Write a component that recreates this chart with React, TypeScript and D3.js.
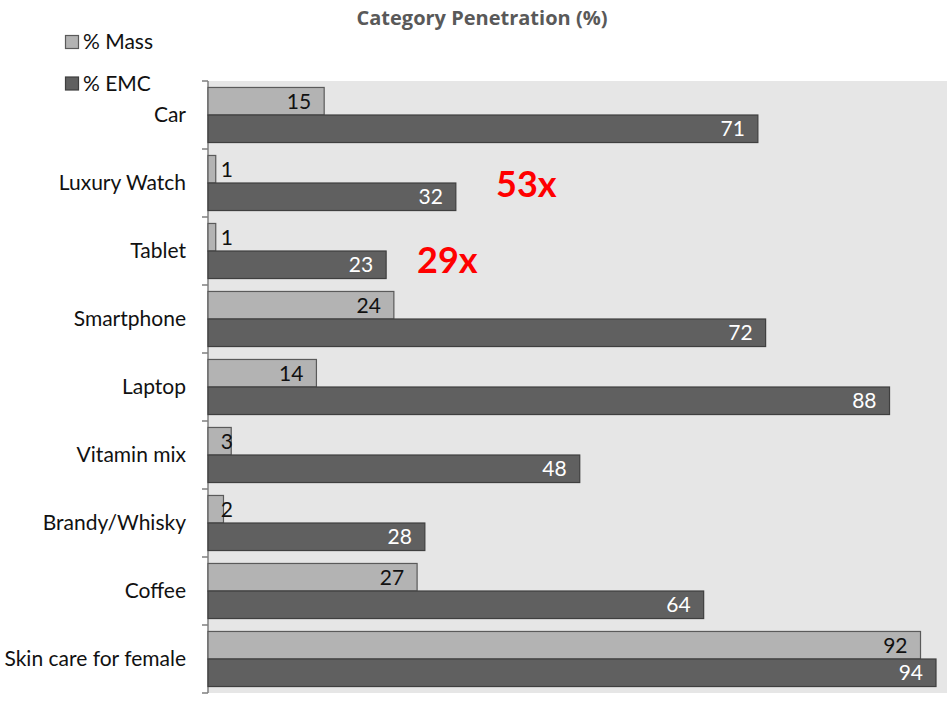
import React from "react";
import * as d3 from "d3";

const categories = ["Car", "Luxury Watch", "Tablet", "Smartphone", "Laptop", "Vitamin mix", "Brandy/Whisky", "Coffee", "Skin care for female"];
const massValues = [15, 1, 1, 24, 14, 3, 2, 27, 92];
const emcValues = [71, 32, 23, 72, 88, 48, 28, 64, 94];
const seriesNames = ["% Mass", "% EMC"];
const annotationCategories = ["Luxury Watch", "Tablet"];
const annotationTexts = ["53x", "29x"];
const annotationValues = [37.2, 27.0];

const W = 947;
const H = 706;
const FONT = "Lato, 'Open Sans', sans-serif";

export default function App() {
  const left = 208;
  const right = 947;
  const top = 81;
  const bottom = 693;
  const x = d3.scaleLinear().domain([0, 94]).range([left, 936]);
  const y = d3.scaleBand<string>().domain(categories).range([top, bottom]).paddingInner(0.19).paddingOuter(0.095);
  const sub = d3.scaleBand<number>().domain([0, 1]).range([0, y.bandwidth()]);
  const step = y.step();
  const colors = ["#b3b3b3", "#606060"];
  const strokes = ["#5a5a5a", "#3f3f3f"];
  const textColors = ["#111111", "#ffffff"];
  const series = [massValues, emcValues];
  const annFrac = [0.71, 0.82];
  const FS = 21;

  return (
    <svg width={W} height={H} style={{ position: "fixed", left: 0, top: 0, background: "#fff" }} fontFamily={FONT}>
      <rect x={left} y={top} width={right - left} height={bottom - top} fill="#e6e6e6" />
      <text x={482} y={25} textAnchor="middle" fontSize={20} fontWeight="bold" fill="#595959" fontFamily="'Open Sans', Lato, sans-serif">
        Category Penetration (%)
      </text>
      {seriesNames.map((n, i) => (
        <g key={n}>
          <rect x={65.5} y={35.5 + i * 41.5} width={13} height={13} fill={colors[i]} stroke={strokes[i]} strokeWidth={1.2} />
          <text x={83} y={49 + i * 41.5} fontSize={FS} fill="#111">{n}</text>
        </g>
      ))}
      <line x1={left} x2={left} y1={top} y2={bottom} stroke="#7f7f7f" strokeWidth={1.5} />
      {d3.range(categories.length + 1).map((i) => (
        <line key={i} x1={left - 6} x2={left} y1={top + i * step} y2={top + i * step} stroke="#7f7f7f" strokeWidth={1.5} />
      ))}
      {categories.map((c) => (
        <text key={c} x={186} y={(y(c) as number) + y.bandwidth() / 2 + 7} textAnchor="end" fontSize={FS} fill="#111">
          {c}
        </text>
      ))}
      {categories.map((c, ci) =>
        series.map((vals, si) => {
          const v = vals[ci];
          const by = (y(c) as number) + (sub(si) as number);
          const bh = sub.bandwidth();
          const inside = x(v) - 13 >= 233;
          const tx = inside ? x(v) - 13 : 233;
          return (
            <g key={c + si}>
              <rect x={left} y={by} width={x(v) - left} height={bh} fill={colors[si]} stroke={strokes[si]} strokeWidth={1.2} />
              <text x={tx} y={by + bh / 2 + 7.5} textAnchor="end" fontSize={FS} fill={inside ? textColors[si] : "#111"}>
                {v}
              </text>
            </g>
          );
        })
      )}
      {annotationTexts.map((t, i) => (
        <text
          key={t}
          x={x(annotationValues[i])}
          y={(y(annotationCategories[i]) as number) - (y.step() - y.bandwidth()) / 2 + y.step() * annFrac[i]}
          fontSize={36}
          fontWeight="bold"
          fill="#ff0000"
        >
          {t}
        </text>
      ))}
    </svg>
  );
}
